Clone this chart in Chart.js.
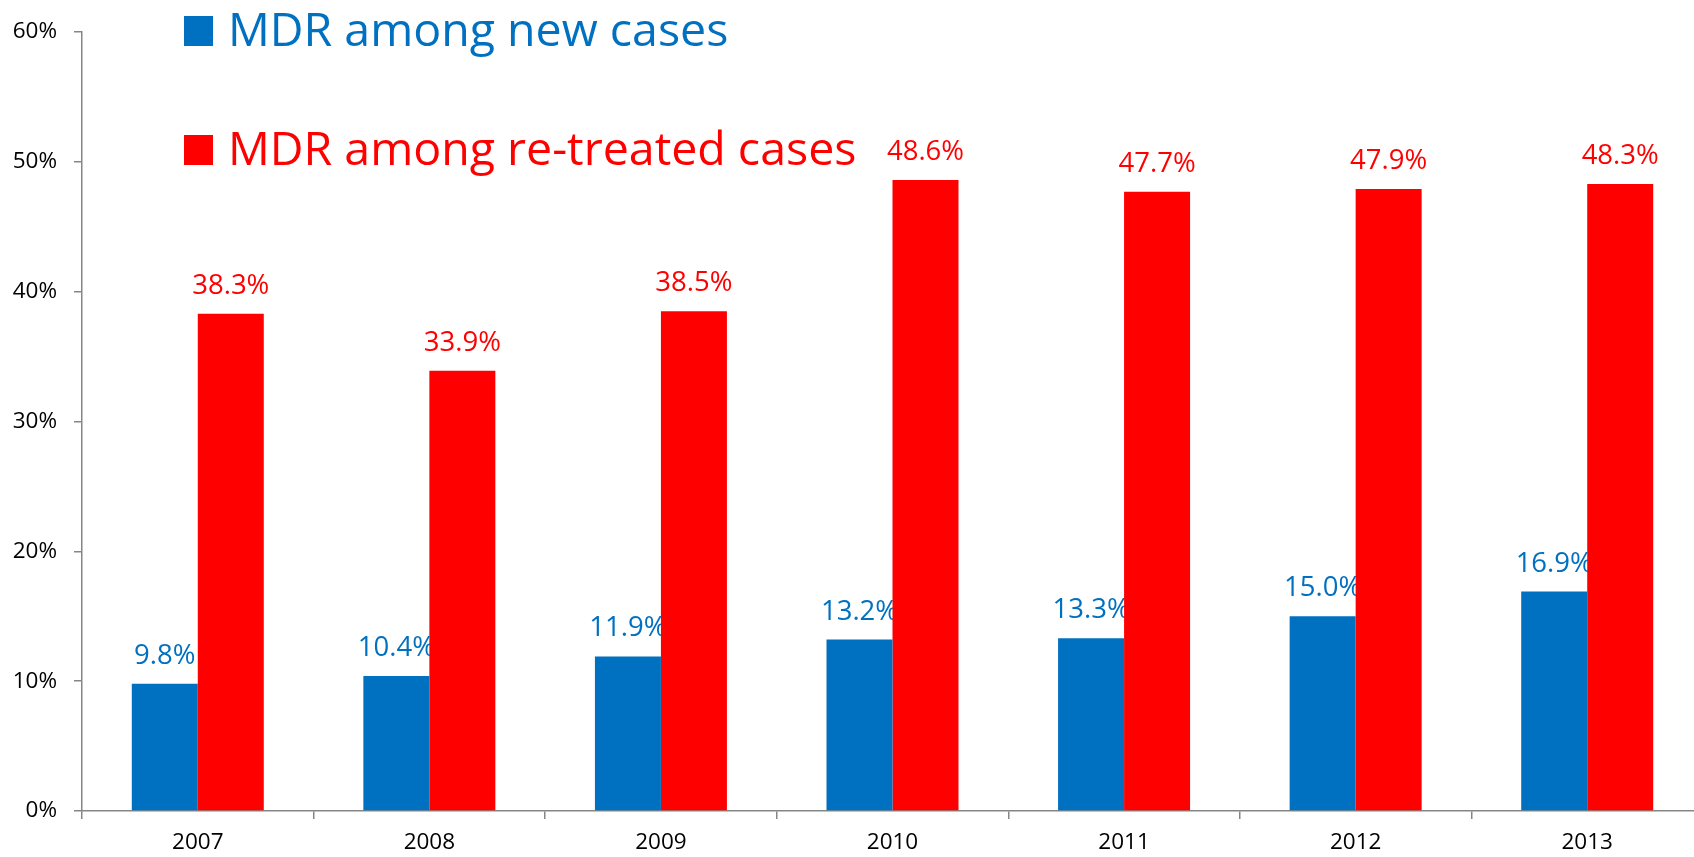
<!DOCTYPE html>
<html>
<head>
<meta charset="utf-8">
<script src="https://cdn.jsdelivr.net/npm/chart.js@4/dist/chart.umd.min.js"></script>
<style>
  html, body { margin: 0; padding: 0; background: #ffffff; overflow: hidden; }
  #wrap { width: 1694px; height: 857px; overflow: hidden; }
  canvas { display: block; }
</style>
</head>
<body>
<div id="wrap"><canvas id="c" width="1710" height="857"></canvas></div>
<script>
const years = ['2007', '2008', '2009', '2010', '2011', '2012', '2013'];
const newCases = [9.8, 10.4, 11.9, 13.2, 13.3, 15.0, 16.9];
const retreatedCases = [38.3, 33.9, 38.5, 48.6, 47.7, 47.9, 48.3];
const seriesNames = ['MDR among new cases', 'MDR among re-treated cases'];
const yTicks = [0, 10, 20, 30, 40, 50, 60];

const BLUE = '#0070C0';
const RED = '#FF0000';
const AXIS = '#868686';
const FONT = "'Open Sans', 'Liberation Sans', sans-serif";

function drawLabels(chart, dsIndex) {
  const ctx = chart.ctx;
  const meta = chart.getDatasetMeta(dsIndex);
  const ds = chart.data.datasets[dsIndex];
  ctx.save();
  ctx.font = '27.5px ' + FONT;
  ctx.fillStyle = ds.backgroundColor;
  ctx.textAlign = 'center';
  ctx.textBaseline = 'alphabetic';
  meta.data.forEach((bar, i) => {
    const v = ds.data[i];
    ctx.fillText(v.toFixed(1) + '%', bar.x, bar.y - 20);
  });
  ctx.restore();
}

const labelPlugin = {
  id: 'valueLabels',
  beforeDatasetsDraw(chart) {
    drawLabels(chart, 0);
  },
  afterDatasetsDraw(chart) {
    drawLabels(chart, 1);
  }
};

const legendPlugin = {
  id: 'customLegend',
  afterDraw(chart) {
    const ctx = chart.ctx;
    const rows = [46, 165];
    ctx.save();
    ctx.font = '46.5px ' + FONT;
    ctx.textAlign = 'left';
    ctx.textBaseline = 'alphabetic';
    chart.data.datasets.forEach((ds, i) => {
      const base = rows[i];
      ctx.fillStyle = ds.backgroundColor;
      ctx.fillRect(184, base - 30, 29, 30);
      ctx.fillText(ds.label, 228, base);
    });
    ctx.restore();
  }
};

new Chart(document.getElementById('c'), {
  type: 'bar',
  data: {
    labels: years,
    datasets: [
      { label: seriesNames[0], data: newCases, backgroundColor: BLUE, borderWidth: 0 },
      { label: seriesNames[1], data: retreatedCases, backgroundColor: RED, borderWidth: 0 }
    ]
  },
  options: {
    responsive: false,
    animation: false,
    devicePixelRatio: 1,
    layout: { padding: { top: 32, right: 7, left: 0, bottom: 0 } },
    datasets: { bar: { categoryPercentage: 0.57, barPercentage: 1.0 } },
    plugins: { legend: { display: false }, tooltip: { enabled: false } },
    scales: {
      x: {
        offset: true,
        grid: { offset: true, drawOnChartArea: false, drawTicks: true, tickLength: 8, color: AXIS, lineWidth: 1.5 },
        border: { display: true, color: AXIS, width: 1.5 },
        ticks: { color: '#000000', font: { family: FONT, size: 22.5 }, padding: 10, maxRotation: 0 },
        afterFit(scale) { scale.height = 46; }
      },
      y: {
        min: 0, max: 60,
        afterBuildTicks(scale) { scale.ticks = yTicks.map(v => ({ value: v })); },
        grid: { drawOnChartArea: false, drawTicks: true, tickLength: 8, color: AXIS, lineWidth: 1.5 },
        border: { display: true, color: AXIS, width: 1.5 },
        ticks: { color: '#000000', font: { family: FONT, size: 22.5 }, padding: 17, callback: v => v + '%' },
        afterFit(scale) { scale.width = 82; }
      }
    }
  },
  plugins: [labelPlugin, legendPlugin]
});
</script>
</body>
</html>
